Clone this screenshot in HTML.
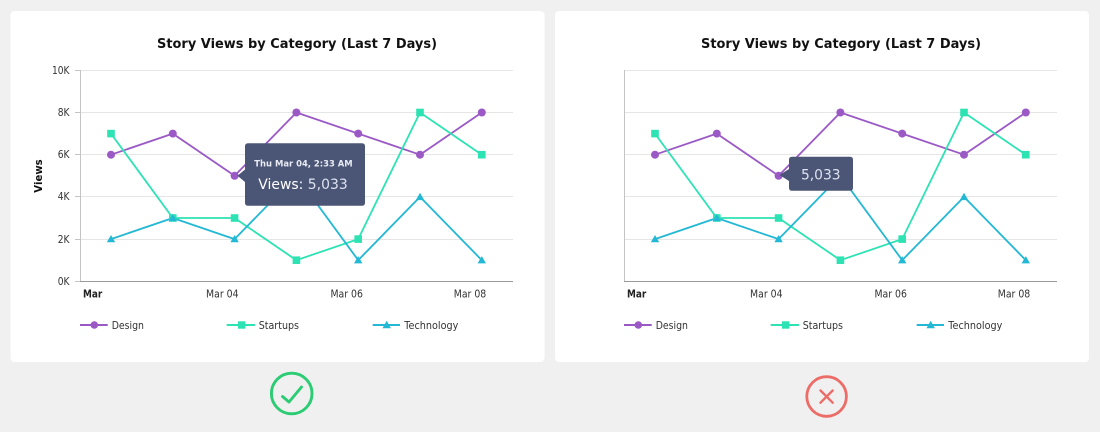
<!DOCTYPE html>
<html>
<head>
<meta charset="utf-8">
<style>
  html, body { margin: 0; padding: 0; background: #f0f0f0; }
  body { width: 1100px; height: 432px; overflow: hidden; }
  svg { display: block; }
  text { font-family: "DejaVu Sans", "Liberation Sans", sans-serif; }
</style>
</head>
<body>
<svg width="1100" height="432" viewBox="0 0 1100 432" xmlns="http://www.w3.org/2000/svg">
  <rect x="0" y="0" width="1100" height="432" fill="#f0f0f0"/>
  <!-- Cards -->
  <rect x="10.5" y="11" width="534" height="351" rx="4" fill="#ffffff"/>
  <rect x="555" y="11" width="534" height="351" rx="4" fill="#ffffff"/>

  <defs>
    <g id="plot">
      <!-- gridlines -->
      <g stroke="#e6e6e6" stroke-width="1">
        <line x1="80" y1="70.5" x2="513" y2="70.5"/>
        <line x1="80" y1="112.5" x2="513" y2="112.5"/>
        <line x1="80" y1="154.5" x2="513" y2="154.5"/>
        <line x1="80" y1="196.5" x2="513" y2="196.5"/>
        <line x1="80" y1="239.5" x2="513" y2="239.5"/>
      </g>
      <line x1="80.5" y1="70" x2="80.5" y2="281.5" stroke="#c4c4c4" stroke-width="1"/>
      <line x1="80" y1="281.5" x2="513" y2="281.5" stroke="#9a9a9a" stroke-width="1"/>
      <!-- title -->
      <text x="297" y="48" font-size="13.4" font-weight="bold" fill="#111" text-anchor="middle" textLength="280" lengthAdjust="spacingAndGlyphs">Story Views by Category (Last 7 Days)</text>
      <!-- x labels -->
      <text x="83" y="297.5" font-size="10.5" font-weight="bold" fill="#222" textLength="19.3" lengthAdjust="spacingAndGlyphs">Mar</text>
      <text x="222.3" y="297.5" font-size="10.5" fill="#333" text-anchor="middle" textLength="32.5" lengthAdjust="spacingAndGlyphs">Mar 04</text>
      <text x="346.7" y="297.5" font-size="10.5" fill="#333" text-anchor="middle" textLength="32.5" lengthAdjust="spacingAndGlyphs">Mar 06</text>
      <text x="470" y="297.5" font-size="10.5" fill="#333" text-anchor="middle" textLength="32.5" lengthAdjust="spacingAndGlyphs">Mar 08</text>
      <!-- series lines -->
      <polyline fill="none" stroke="#9b59c6" stroke-width="1.8" stroke-linejoin="round"
        points="111,154.7 172.8,133.6 234.6,175.8 296.4,112.5 358.2,133.6 420,154.7 481.8,112.5"/>
      <polyline fill="none" stroke="#2de3b4" stroke-width="1.8" stroke-linejoin="round"
        points="111,133.6 172.8,218 234.6,218 296.4,260.2 358.2,239.1 420,112.5 481.8,154.7"/>
      <polyline fill="none" stroke="#23b8d4" stroke-width="1.8" stroke-linejoin="round"
        points="111,239.1 172.8,218 234.6,239.1 296.4,175.8 358.2,260.2 420,196.9 481.8,260.2"/>
      <!-- design markers -->
      <g fill="#9b59c6">
        <circle cx="111" cy="154.7" r="4"/>
        <circle cx="172.8" cy="133.6" r="4"/>
        <circle cx="234.6" cy="175.8" r="4"/>
        <circle cx="296.4" cy="112.5" r="4"/>
        <circle cx="358.2" cy="133.6" r="4"/>
        <circle cx="420" cy="154.7" r="4"/>
        <circle cx="481.8" cy="112.5" r="4"/>
      </g>
      <!-- startups markers -->
      <g fill="#2de3b4">
        <rect x="107.2" y="129.8" width="7.6" height="7.6"/>
        <rect x="169" y="214.2" width="7.6" height="7.6"/>
        <rect x="230.8" y="214.2" width="7.6" height="7.6"/>
        <rect x="292.6" y="256.4" width="7.6" height="7.6"/>
        <rect x="354.4" y="235.3" width="7.6" height="7.6"/>
        <rect x="416.2" y="108.7" width="7.6" height="7.6"/>
        <rect x="478" y="150.9" width="7.6" height="7.6"/>
      </g>
      <!-- technology markers -->
      <g fill="#23b8d4">
        <path d="M111,235 L115.2,242.3 L106.8,242.3 Z"/>
        <path d="M172.8,213.9 L177,221.2 L168.6,221.2 Z"/>
        <path d="M234.6,235 L238.8,242.3 L230.4,242.3 Z"/>
        <path d="M296.4,171.7 L300.6,179 L292.2,179 Z"/>
        <path d="M358.2,256.1 L362.4,263.4 L354,263.4 Z"/>
        <path d="M420,192.8 L424.2,200.1 L415.8,200.1 Z"/>
        <path d="M481.8,256.1 L486,263.4 L477.6,263.4 Z"/>
      </g>
      <!-- legend -->
      <line x1="80" y1="325" x2="107.7" y2="325" stroke="#9b59c6" stroke-width="2"/>
      <circle cx="94.3" cy="325" r="3.8" fill="#9b59c6"/>
      <text x="111.7" y="328.8" font-size="10.5" fill="#333" textLength="32.3" lengthAdjust="spacingAndGlyphs">Design</text>
      <line x1="226.7" y1="325" x2="255" y2="325" stroke="#2de3b4" stroke-width="2"/>
      <rect x="238" y="321.3" width="7.4" height="7.4" fill="#2de3b4"/>
      <text x="258.7" y="328.8" font-size="10.5" fill="#333" textLength="40.3" lengthAdjust="spacingAndGlyphs">Startups</text>
      <line x1="372.7" y1="325" x2="400" y2="325" stroke="#23b8d4" stroke-width="2"/>
      <path d="M386.7,320.8 L390.9,328.2 L382.5,328.2 Z" fill="#23b8d4"/>
      <text x="404.3" y="328.8" font-size="10.5" fill="#333" textLength="54" lengthAdjust="spacingAndGlyphs">Technology</text>
    </g>
  </defs>

  <!-- Left chart -->
  <use href="#plot"/>
  <!-- y ticks and labels (left only) -->
  <g stroke="#c4c4c4" stroke-width="1">
    <line x1="75" y1="70.5" x2="80" y2="70.5"/>
    <line x1="75" y1="112.5" x2="80" y2="112.5"/>
    <line x1="75" y1="154.5" x2="80" y2="154.5"/>
    <line x1="75" y1="196.5" x2="80" y2="196.5"/>
    <line x1="75" y1="239.5" x2="80" y2="239.5"/>
    <line x1="75" y1="281.5" x2="80" y2="281.5"/>
  </g>
  <g font-size="10.2" fill="#333" text-anchor="end">
    <text x="69.5" y="74.2" textLength="17.5" lengthAdjust="spacingAndGlyphs">10K</text>
    <text x="69.5" y="116.2" textLength="11.8" lengthAdjust="spacingAndGlyphs">8K</text>
    <text x="69.5" y="158.2" textLength="11.8" lengthAdjust="spacingAndGlyphs">6K</text>
    <text x="69.5" y="200.2" textLength="11.8" lengthAdjust="spacingAndGlyphs">4K</text>
    <text x="69.5" y="243.2" textLength="11.8" lengthAdjust="spacingAndGlyphs">2K</text>
    <text x="69.5" y="285.2" textLength="11.8" lengthAdjust="spacingAndGlyphs">0K</text>
  </g>
  <text x="0" y="0" font-size="10.5" font-weight="bold" fill="#111" text-anchor="middle" transform="translate(42,176) rotate(-90)" textLength="33.4" lengthAdjust="spacingAndGlyphs">Views</text>

  <!-- Left tooltip -->
  <path d="M248,143.3 H362 Q365,143.3 365,146.3 V202.7 Q365,205.7 362,205.7 H248 Q245,205.7 245,202.7 V182 L237.5,175.7 L245,169.5 V146.3 Q245,143.3 248,143.3 Z" fill="#4b5677"/>
  <text x="303.5" y="166.5" font-size="9" font-weight="bold" fill="#e8ebf2" text-anchor="middle" textLength="98.4" lengthAdjust="spacingAndGlyphs">Thu Mar 04, 2:33 AM</text>
  <text x="303" y="189" font-size="14.5" fill="#dde2ee" text-anchor="middle" textLength="89.4" lengthAdjust="spacingAndGlyphs"><tspan fill="#ffffff">Views:</tspan> 5,033</text>

  <!-- Right chart -->
  <g transform="translate(544,0)">
    <use href="#plot"/>
    <path d="M248,156.7 H306 Q309,156.7 309,159.7 V187.7 Q309,190.7 306,190.7 H248 Q245,190.7 245,187.7 V181 L235.5,175 L245,169 V159.7 Q245,156.7 248,156.7 Z" fill="#4b5677"/>
    <text x="276.8" y="179.5" font-size="14.5" fill="#dde2ee" text-anchor="middle" textLength="39.7" lengthAdjust="spacingAndGlyphs">5,033</text>
  </g>

  <!-- Icons -->
  <circle cx="291.7" cy="393.5" r="20.3" fill="none" stroke="#2bcc73" stroke-width="2.9"/>
  <path d="M282.5,396.5 L289,402 L301.5,387" fill="none" stroke="#2bcc73" stroke-width="2.9" stroke-linecap="round" stroke-linejoin="round"/>
  <circle cx="826.6" cy="396.5" r="19.8" fill="none" stroke="#ec6d68" stroke-width="2.8"/>
  <path d="M820.5,390.5 L832.7,402.7 M832.7,390.5 L820.5,402.7" fill="none" stroke="#ec6d68" stroke-width="2.4" stroke-linecap="round"/>
</svg>
</body>
</html>
